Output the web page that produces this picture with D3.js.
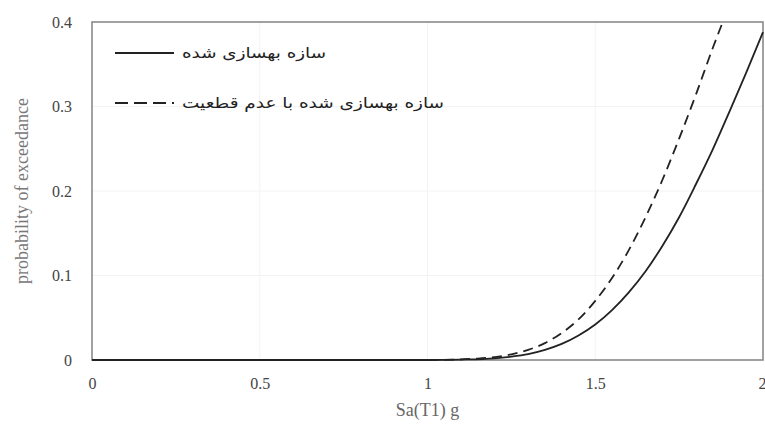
<!DOCTYPE html>
<html>
<head>
<meta charset="utf-8">
<script src="https://cdn.jsdelivr.net/npm/d3@7"></script>
<style>
  html, body { margin: 0; padding: 0; background: #fff; }
  svg { display: block; }
</style>
</head>
<body>
<svg id="chart" width="765" height="430"></svg>
<script>
// Fragility curves: probability of exceedance vs. spectral acceleration
const xTicks = [0, 0.5, 1, 1.5, 2];
const yTicks = [0, 0.1, 0.2, 0.3, 0.4];

const seriesNames = ["سازه بهسازی شده", "سازه بهسازی شده با عدم قطعیت"];

// retrofitted structure
const solidX = [0, 0.5, 1.0, 1.1, 1.2, 1.25, 1.3, 1.35, 1.4, 1.45, 1.5, 1.55, 1.6, 1.65, 1.7, 1.75, 1.8, 1.85, 1.9, 1.95, 2.0];
const solidY = [0, 0, 0, 0.0005, 0.002, 0.004, 0.007, 0.012, 0.019, 0.029, 0.042, 0.059, 0.080, 0.105, 0.135, 0.169, 0.208, 0.249, 0.294, 0.340, 0.388];

// retrofitted structure with uncertainty
const dashX = [0, 0.5, 1.0, 1.1, 1.15, 1.2, 1.25, 1.3, 1.35, 1.4, 1.45, 1.5, 1.55, 1.6, 1.65, 1.7, 1.75, 1.8, 1.85, 1.88];
const dashY = [0, 0, 0, 0.0008, 0.0017, 0.0035, 0.0067, 0.012, 0.020, 0.032, 0.048, 0.070, 0.097, 0.130, 0.169, 0.213, 0.262, 0.314, 0.369, 0.400];

const svg = d3.select("#chart");
const margin = { left: 92, right: 2, top: 22, bottom: 70 };
const W = 765, H = 430;
const x = d3.scaleLinear().domain([0, 2]).range([margin.left, W - margin.right]);
const y = d3.scaleLinear().domain([0, 0.4]).range([H - margin.bottom, margin.top]);

// faint gridlines
svg.append("g").selectAll("line.gx").data(xTicks.slice(1, -1)).join("line")
  .attr("x1", d => x(d)).attr("x2", d => x(d))
  .attr("y1", y(0)).attr("y2", y(0.4))
  .attr("stroke", "#f3f3f3").attr("stroke-width", 1);
svg.append("g").selectAll("line.gy").data(yTicks.slice(1, -1)).join("line")
  .attr("x1", x(0)).attr("x2", x(2))
  .attr("y1", d => y(d)).attr("y2", d => y(d))
  .attr("stroke", "#f3f3f3").attr("stroke-width", 1);

// axes (labels only, frame drawn separately)
const xAxis = svg.append("g")
  .attr("transform", `translate(0,${y(0)})`)
  .call(d3.axisBottom(x).tickValues(xTicks).tickSize(0).tickPadding(18).tickFormat(d3.format("")));
const yAxis = svg.append("g")
  .attr("transform", `translate(${x(0)},0)`)
  .call(d3.axisLeft(y).tickValues(yTicks).tickSize(0).tickPadding(20).tickFormat(d3.format("")));
[xAxis, yAxis].forEach(g => {
  g.select(".domain").remove();
  g.selectAll("text")
    .attr("font-family", "'Liberation Serif', 'Times New Roman', serif")
    .attr("font-size", 16).attr("fill", "#444");
});
// keep the last x label inside the window
xAxis.selectAll(".tick").filter(d => d === 2).select("text")
  .attr("text-anchor", "end").attr("dx", 3);

// plot frame
svg.append("rect")
  .attr("x", x(0)).attr("y", y(0.4))
  .attr("width", x(2) - x(0)).attr("height", y(0) - y(0.4))
  .attr("fill", "none").attr("stroke", "#8a8a8a").attr("stroke-width", 1.6);

// curves
const line = d3.line().x(d => x(d[0])).y(d => y(d[1])).curve(d3.curveMonotoneX);
svg.append("path")
  .datum(solidX.map((v, i) => [v, solidY[i]]))
  .attr("d", line).attr("fill", "none")
  .attr("stroke", "#222").attr("stroke-width", 1.8);
svg.append("path")
  .datum(dashX.map((v, i) => [v, dashY[i]]))
  .attr("d", line).attr("fill", "none")
  .attr("stroke", "#222").attr("stroke-width", 1.8)
  .attr("stroke-dasharray", "10,6");

// axis titles
svg.append("text")
  .attr("x", (x(0) + x(2)) / 2).attr("y", 416)
  .attr("text-anchor", "middle")
  .attr("font-family", "'Liberation Serif', 'Times New Roman', serif")
  .attr("font-size", 18).attr("fill", "#666")
  .text("Sa(T1) g");
svg.append("text")
  .attr("transform", `translate(28,${(y(0) + y(0.4)) / 2}) rotate(-90)`)
  .attr("text-anchor", "middle")
  .attr("font-family", "'Liberation Serif', 'Times New Roman', serif")
  .attr("font-size", 18).attr("fill", "#777")
  .text("probability of exceedance");

// legend
const legend = svg.append("g");
const legY = [53, 103];
const dashes = [null, "13,6"];
const legWidths = [144, 262];
seriesNames.forEach((name, i) => {
  legend.append("line")
    .attr("x1", 115).attr("x2", 174)
    .attr("y1", legY[i]).attr("y2", legY[i])
    .attr("stroke", "#222").attr("stroke-width", 1.8)
    .attr("stroke-dasharray", dashes[i]);
  legend.append("text")
    .attr("x", 182).attr("y", legY[i] + 5)
    .attr("font-family", "'DejaVu Sans', sans-serif")
    .attr("font-size", 15).attr("fill", "#222")
    .attr("textLength", legWidths[i])
    .attr("lengthAdjust", "spacingAndGlyphs")
    .text(name);
});
</script>
</body>
</html>
